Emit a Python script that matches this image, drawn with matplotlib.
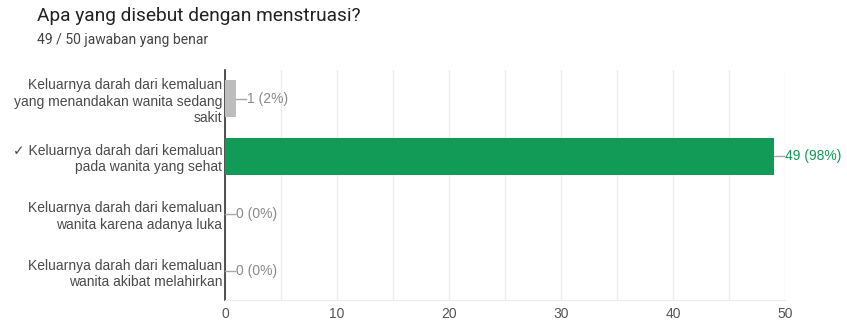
import matplotlib
matplotlib.use("Agg")
import matplotlib.pyplot as plt
import numpy as np

title = "Apa yang disebut dengan menstruasi?"
subtitle = "49 / 50 jawaban yang benar"
categories = [
    "Keluarnya darah dari kemaluan\nyang menandakan wanita sedang\nsakit",
    "✓ Keluarnya darah dari kemaluan\npada wanita yang sehat",
    "Keluarnya darah dari kemaluan\nwanita karena adanya luka",
    "Keluarnya darah dari kemaluan\nwanita akibat melahirkan",
]
values = [1, 49, 0, 0]
percents = [2, 98, 0, 0]
correct = [False, True, False, False]
xticks = [0, 10, 20, 30, 40, 50]

plt.rcParams['font.family'] = ['Liberation Sans', 'DejaVu Sans']

fig = plt.figure(figsize=(8.47, 3.21), dpi=100)
ax = fig.add_axes([225/847, 1-300/321, (785-225)/847, (300-70)/321])

green = "#129b56"
grayb = "#bdbdbd"
y = np.arange(len(categories))
colors = [green if c else grayb for c in correct]
ax.barh(y, values, height=0.64, color=colors, zorder=3)

ax.set_xlim(0, 50)
ax.set_ylim(len(categories)-0.5, -0.5)
ax.set_xticks(xticks)
ax.set_xticks(np.arange(0, 51, 5), minor=True)
ax.grid(axis='x', which='both', color='#ececec', linewidth=1, zorder=0)
ax.tick_params(axis='x', which='both', length=0, labelsize=10, colors='#555555', pad=5)
ax.tick_params(axis='y', length=0, pad=2)
ax.set_yticks(y)
ax.set_yticklabels(categories, fontsize=10, color='#4a4a4a', linespacing=1.25)
for lab in ax.get_yticklabels():
    lab.set_horizontalalignment('right')
for s in ['top', 'right']:
    ax.spines[s].set_visible(False)
ax.spines['bottom'].set_color('#ececec')
ax.spines['left'].set_color('#333333')
ax.spines['left'].set_linewidth(1.2)

for i, (v, p, c) in enumerate(zip(values, percents, correct)):
    col = green if c else '#8a8a8a'
    ax.plot([v, v + 0.9], [i, i], color='#a8a8a8', lw=1, zorder=4, clip_on=False)
    ax.text(v + 1.0, i, f"{v} ({p}%)", va='center', ha='left', fontsize=10,
            color=col, clip_on=False)

fig.text(37/847, 1-16/321, title, fontsize=13.8, color='#222222', va='center', ha='left',
         family=['Roboto', 'DejaVu Sans'])
fig.text(37/847, 1-40/321, subtitle, fontsize=10, color='#444444', va='center', ha='left',
         family=['Roboto', 'DejaVu Sans'])

fig.savefig("out.png", dpi=100)
